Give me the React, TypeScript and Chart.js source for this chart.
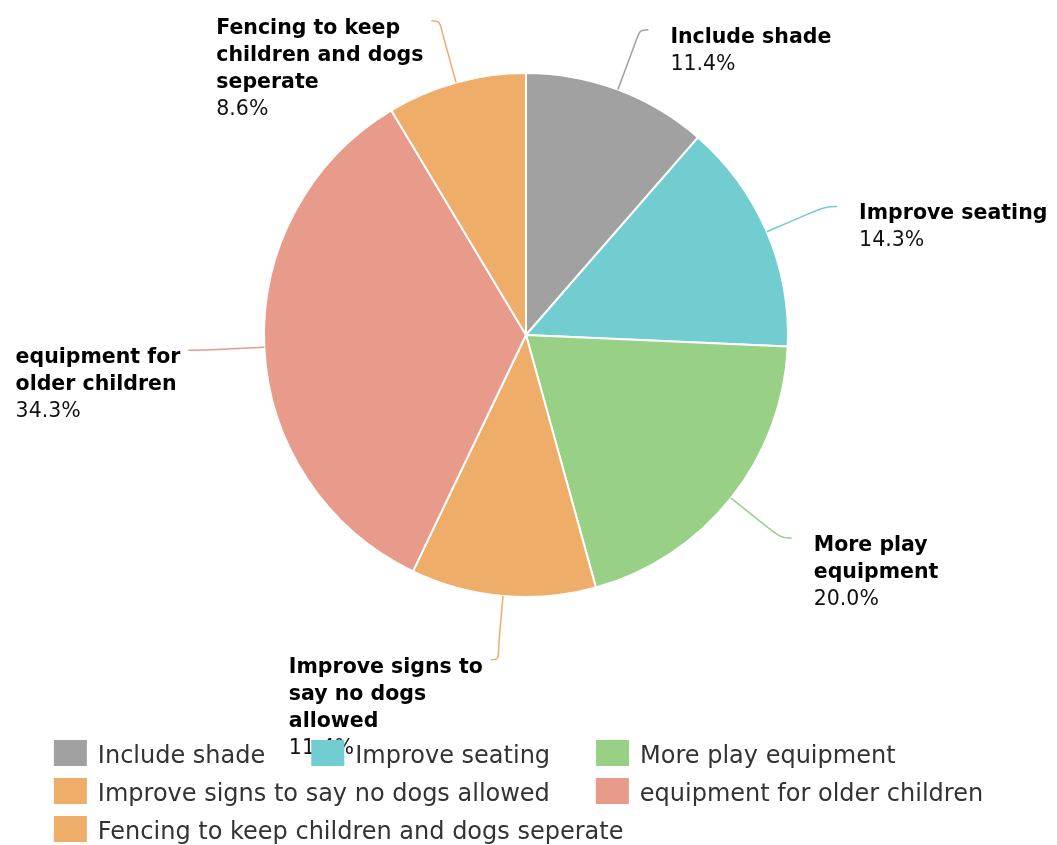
import React, { useEffect, useRef } from "react";
import { Chart, registerables } from "chart.js";

Chart.register(...registerables);

const categories = [
  "Include shade",
  "Improve seating",
  "More play equipment",
  "Improve signs to say no dogs allowed",
  "equipment for older children",
  "Fencing to keep children and dogs seperate",
];
const shares = [11.4, 14.3, 20.0, 11.4, 34.3, 8.6];
const sliceColors = ["#a1a1a1", "#72cdd0", "#98d086", "#eead68", "#e99b8b", "#eead68"];

const FONT = '"DejaVu Sans", Verdana, sans-serif';

function wrapText(ctx: CanvasRenderingContext2D, text: string, maxWidth: number): string[] {
  const words = text.split(" ");
  const lines: string[] = [];
  let cur = "";
  for (const w of words) {
    const test = cur ? cur + " " + w : w;
    if (cur && ctx.measureText(test).width > maxWidth) {
      lines.push(cur);
      cur = w;
    } else {
      cur = test;
    }
  }
  if (cur) lines.push(cur);
  return lines;
}

const dataLabelPlugin = {
  id: "pieDataLabels",
  afterDatasetsDraw(chart: any) {
    const ctx: CanvasRenderingContext2D = chart.ctx;
    const meta = chart.getDatasetMeta(0);
    const values: number[] = chart.data.datasets[0].data;
    const colors: string[] = chart.data.datasets[0].backgroundColor;
    const labels: string[] = chart.data.labels;
    const lineH = 27;
    ctx.save();
    meta.data.forEach((arc: any, i: number) => {
      const p = arc.getProps(["x", "y", "startAngle", "endAngle", "outerRadius"], true);
      const mid = (p.startAngle + p.endAngle) / 2;
      const cos = Math.cos(mid);
      const sin = Math.sin(mid);
      const r = p.outerRadius;
      const right = cos >= 0;
      const ex = p.x + cos * r;
      const ey = p.y + sin * r;
      const bx = p.x + cos * (r + 42);
      const by = p.y + sin * (r + 42);
      const nx = p.x + cos * (r + 70);
      const ny = p.y + sin * (r + 70);
      const baseline = ny + 13 - 6 * sin;
      const ax = nx + (right ? 6 : -6);
      const ay = baseline - 13;

      // connector
      ctx.strokeStyle = colors[i];
      ctx.lineWidth = 1.5;
      ctx.beginPath();
      ctx.moveTo(ex, ey);
      ctx.lineTo(bx, by);
      ctx.bezierCurveTo(
        bx + (bx - ex) * 0.5,
        by + (by - ey) * 0.5,
        ax + (right ? -10 : 10),
        ay,
        ax,
        ay
      );
      ctx.stroke();

      // text
      ctx.font = `bold 20.5px ${FONT}`;
      const lines = wrapText(ctx, labels[i], 222);
      let blockW = 0;
      lines.forEach((l) => (blockW = Math.max(blockW, ctx.measureText(l).width)));
      const pct = values[i].toFixed(1) + "%";
      ctx.font = `20.5px ${FONT}`;
      blockW = Math.max(blockW, ctx.measureText(pct).width);
      const left = right ? nx + 28 : nx - 14 - blockW;
      ctx.textAlign = "left";
      ctx.textBaseline = "alphabetic";
      ctx.fillStyle = "#000000";
      ctx.font = `bold 20.5px ${FONT}`;
      lines.forEach((l, k) => ctx.fillText(l, left, baseline + k * lineH));
      ctx.font = `20.5px ${FONT}`;
      ctx.fillStyle = "#111111";
      ctx.fillText(pct, left, baseline + lines.length * lineH);
    });
    ctx.restore();
  },
};

const legendPlugin = {
  id: "flowLegend",
  afterDraw(chart: any) {
    const ctx: CanvasRenderingContext2D = chart.ctx;
    const labels: string[] = chart.data.labels;
    const colors: string[] = chart.data.datasets[0].backgroundColor;
    const boxW = 33;
    const boxH = 26;
    const gap = 11;
    const itemDist = 46;
    const rowH = 38;
    const maxW = 1000;
    ctx.save();
    ctx.font = `24px ${FONT}`;
    const items = labels.map((l, i) => ({ l, c: colors[i], w: boxW + gap + ctx.measureText(l).width }));
    const rows: { l: string; c: string; w: number; x: number }[][] = [];
    let row: { l: string; c: string; w: number; x: number }[] = [];
    let x = 0;
    items.forEach((it) => {
      const nx = row.length ? x + itemDist : 0;
      if (row.length && nx + it.w > maxW) {
        rows.push(row);
        row = [];
        row.push({ ...it, x: 0 });
        x = it.w;
      } else {
        row.push({ ...it, x: nx });
        x = nx + it.w;
      }
    });
    if (row.length) rows.push(row);
    let widest = 0;
    rows.forEach((r) => {
      const last = r[r.length - 1];
      widest = Math.max(widest, last.x + last.w);
    });
    const left = (chart.width - widest) / 2 - 10;
    const top = chart.height - 105;
    rows.forEach((r, ri) => {
      const y = top + ri * rowH;
      r.forEach((it) => {
        ctx.fillStyle = it.c;
        ctx.fillRect(left + it.x, y, boxW, boxH);
        ctx.fillStyle = "#333333";
        ctx.textAlign = "left";
        ctx.textBaseline = "alphabetic";
        ctx.fillText(it.l, left + it.x + boxW + gap, y + 23);
      });
    });
    ctx.restore();
  },
};

export default function App() {
  const ref = useRef<HTMLCanvasElement>(null);
  useEffect(() => {
    const chart = new Chart(ref.current as HTMLCanvasElement, {
      type: "pie",
      data: {
        labels: categories,
        datasets: [
          {
            data: shares,
            backgroundColor: sliceColors,
            borderColor: "#ffffff",
            borderWidth: 2,
            radius: 262,
          } as any,
        ],
      },
      options: {
        animation: false,
        responsive: true,
        maintainAspectRatio: false,
        layout: { padding: { left: 264, right: 269, top: 73, bottom: 248 } },
        plugins: {
          legend: { display: false },
          tooltip: { enabled: false },
        },
      },
      plugins: [dataLabelPlugin, legendPlugin],
    });
    return () => chart.destroy();
  }, []);
  return (
    <div style={{ position: "fixed", left: 0, top: 0, width: 1057, height: 845, background: "#ffffff" }}>
      <canvas ref={ref} />
    </div>
  );
}
